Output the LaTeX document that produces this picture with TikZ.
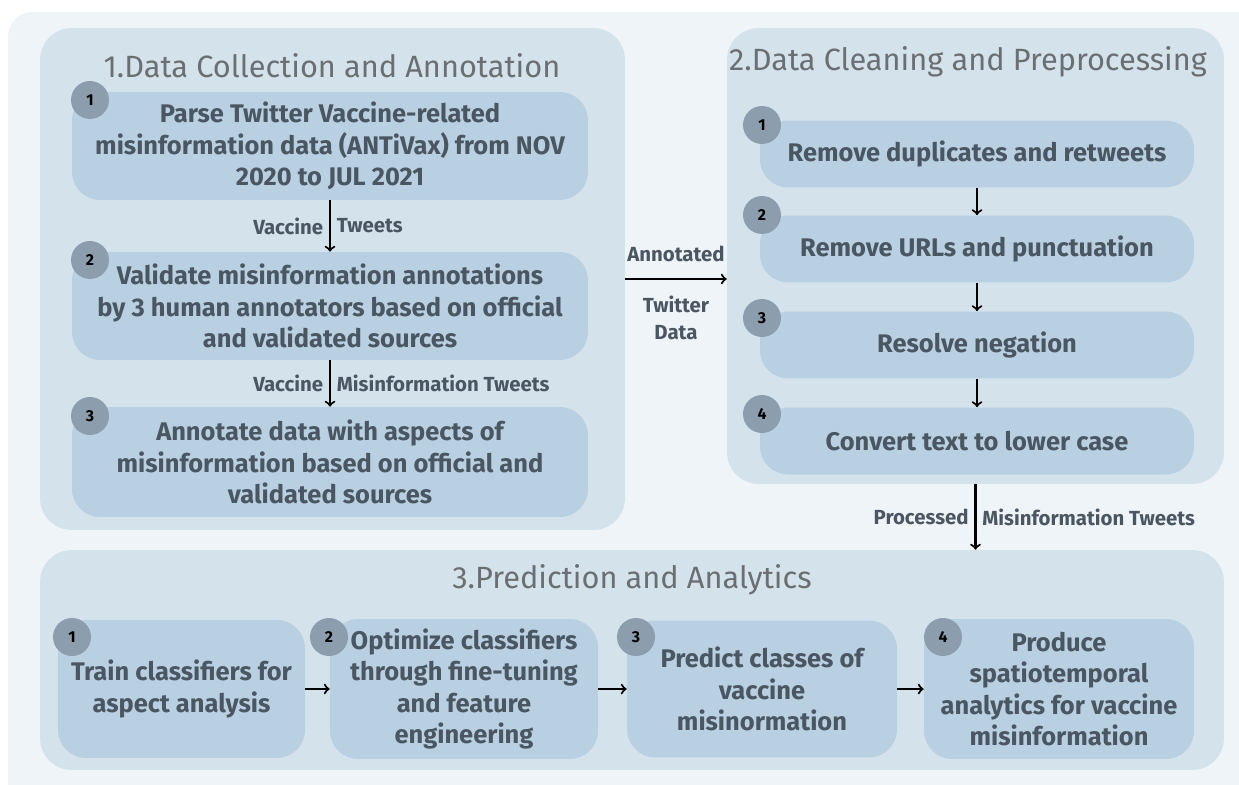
\documentclass[tikz,border=0pt]{standalone}
\usepackage{fontspec}
\setmainfont{Fira Sans}
\usetikzlibrary{positioning}

\definecolor{bgout}{HTML}{EFF4F8}
\definecolor{panelfill}{HTML}{D4E2EC}
\definecolor{stepfill}{HTML}{B9D0E2}
\definecolor{badgefill}{HTML}{8C9EAE}
\definecolor{titlegrey}{HTML}{6C6F72}
\definecolor{steptext}{HTML}{4A5661}

\begin{document}
\begin{tikzpicture}[x=0.02cm, y=-0.02cm,
	panel/.style={fill=panelfill, rounded corners=18pt, inner sep=0pt},
	stepbox/.style={fill=stepfill, rounded corners=16pt, align=center, inner sep=0pt, text=steptext, font=\fontsize{14.5}{18}\selectfont\bfseries},
	badge/.style={circle, fill=badgefill, minimum size=0.76cm, inner sep=0pt, font=\fontsize{9}{9}\selectfont\bfseries},
	title/.style={text=titlegrey, font=\fontsize{17.5}{20}\selectfont},
	lab/.style={text=steptext, font=\fontsize{11.6}{15}\selectfont\bfseries},
	flow/.style={->, line width=1.2pt}]
	\clip (0,0) rectangle (1239,784);
	\fill[white] (0,0) rectangle (1239,784);
	\fill[bgout, rounded corners=14pt] (8,12) rectangle (1280,830);

	% the three stages
	\node[panel, minimum width=11.7cm, minimum height=10.04cm] (p1) at (332.5,279) {};
	\node[panel, minimum width=9.94cm, minimum height=9.12cm] (p2) at (975.5,256) {};
	\node[panel, minimum width=23.68cm, minimum height=4.4cm] (p3) at (632,660) {};
	\node[title] (t1) at (332,66) {1.Data Collection and Annotation};
	\node[title] (t2) at (968,62) {2.Data Cleaning and Preprocessing};
	\node[title] (t3) at (632,580) {3.Prediction and Analytics};

	% stage 1
	\node[stepbox, minimum width=10.32cm, minimum height=2.16cm] (a1) at (330,146) {Parse Twitter Vaccine-related\\misinformation data (ANTiVax) from NOV\\2020 to JUL 2021};
	\node[stepbox, minimum width=10.32cm, minimum height=2.16cm] (a2) at (330,306) {Validate misinformation annotations\\by 3 human annotators based on official\\and validated sources};
	\node[stepbox, minimum width=10.32cm, minimum height=2.2cm] (a3) at (330,462) {Annotate data with aspects of\\misinformation based on official and\\validated sources};
	\node[badge] (a1n) at (90,100) {1};
	\node[badge] (a2n) at (90,260) {2};
	\node[badge] (a3n) at (90,416) {3};
	\draw[flow] (a1) -- node[lab, left] {Vaccine} node[lab, right] {Tweets} (a2);
	\draw[flow] (a2) -- node[lab, left] {Vaccine} node[lab, right] {Misinformation Tweets} (a3);

	% stage 2
	\node[stepbox, minimum width=8.68cm, minimum height=1.34cm] (b1) at (977,154) {Remove duplicates and retweets};
	\node[stepbox, minimum width=8.68cm, minimum height=1.34cm] (b2) at (977,249) {Remove URLs and punctuation};
	\node[stepbox, minimum width=8.68cm, minimum height=1.34cm] (b3) at (977,345) {Resolve negation};
	\node[stepbox, minimum width=8.68cm, minimum height=1.34cm] (b4) at (977,441) {Convert text to lower case};
	\node[badge] (b1n) at (762,125) {1};
	\node[badge] (b2n) at (762,215) {2};
	\node[badge] (b3n) at (762,318) {3};
	\node[badge] (b4n) at (762,414) {4};
	\draw[flow] (b1) -- (b2);
	\draw[flow] (b2) -- (b3);
	\draw[flow] (b3) -- (b4);

	% stage 3
	\node[stepbox, minimum width=4.94cm, minimum height=2.76cm] (c1) at (181.5,689) {Train classifiers for\\aspect analysis};
	\node[stepbox, minimum width=5.36cm, minimum height=2.8cm] (c2) at (464,689) {Optimize classifiers\\through fine-tuning\\and feature\\engineering};
	\node[stepbox, minimum width=5.4cm, minimum height=2.74cm] (c3) at (762,689) {Predict classes of\\vaccine\\misinormation};
	\node[stepbox, minimum width=5.4cm, minimum height=2.8cm] (c4) at (1059,689) {Produce\\spatiotemporal\\analytics for vaccine\\misinformation};
	\node[badge] (c1n) at (72,637) {1};
	\node[badge] (c2n) at (329,637) {2};
	\node[badge] (c3n) at (636,637) {3};
	\node[badge] (c4n) at (943,637) {4};
	\draw[flow] (c1) -- (c2);
	\draw[flow] (c2) -- (c3);
	\draw[flow] (c3) -- (c4);

	% links between stages
	\draw[flow] (p1.east) -- node[lab, above=6pt] {Annotated} node[lab, below=6pt, align=center] {Twitter\\Data} (p1.east -| p2.west);
	\draw[flow] (p2.south) -- node[lab, left] {Processed} node[lab, right] {Misinformation Tweets} (p2.south |- p3.north);
\end{tikzpicture}
\end{document}
